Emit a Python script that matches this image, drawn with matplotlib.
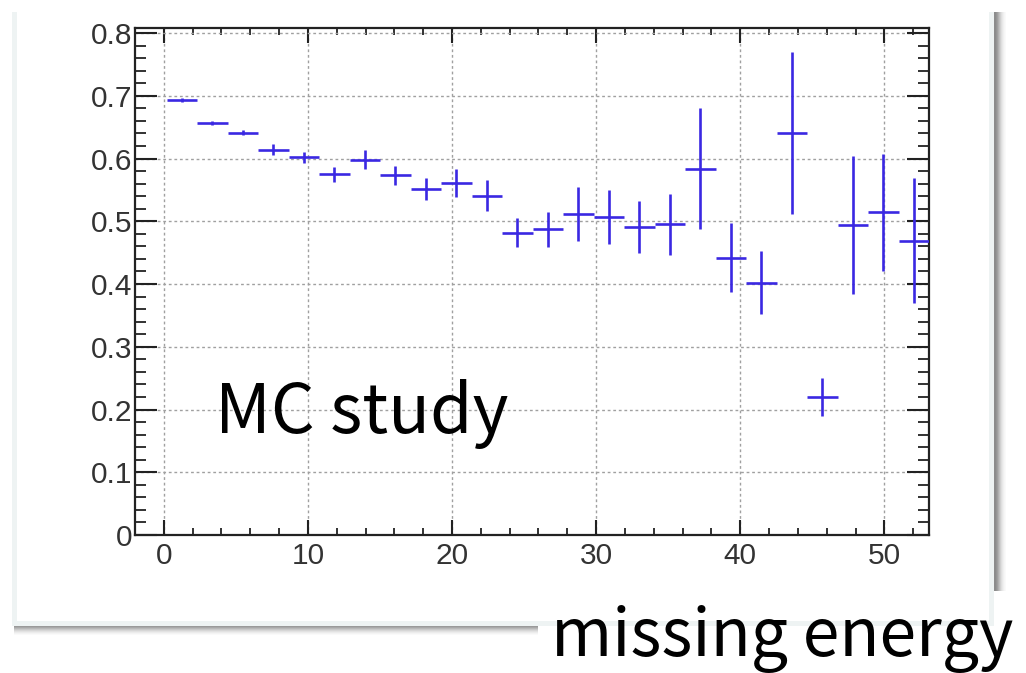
import numpy as np
import matplotlib
matplotlib.use("Agg")
import matplotlib.pyplot as plt
from matplotlib.patches import Rectangle
from matplotlib.ticker import MultipleLocator

# histogram binning (25 bins)
bin_lo, bin_hi, n_bins = 0.2, 53.1, 25

values = [0.693, 0.657, 0.641, 0.614, 0.602, 0.575, 0.598, 0.573, 0.552,
          0.561, 0.541, 0.482, 0.487, 0.512, 0.507, 0.491, 0.495, 0.584,
          0.442, 0.402, 0.641, 0.220, 0.494, 0.514, 0.469]
errors = [0.003, 0.003, 0.004, 0.009, 0.009, 0.012, 0.015, 0.015, 0.0175,
          0.022, 0.024, 0.023, 0.028, 0.043, 0.043, 0.042, 0.049, 0.097,
          0.055, 0.050, 0.129, 0.031, 0.110, 0.093, 0.100]

x_ticks = [0, 10, 20, 30, 40, 50]
x_labels = ["0", "10", "20", "30", "40", "50"]
y_ticks = [0, 0.1, 0.2, 0.3, 0.4, 0.5, 0.6, 0.7, 0.8]
y_labels = ["0", "0.1", "0.2", "0.3", "0.4", "0.5", "0.6", "0.7", "0.8"]

W, H = 1026, 673
fig = plt.figure(figsize=(W / 100, H / 100), dpi=100)


def px_rect(x0, y0, x1, y1, color, z=-10):
    # rectangle given in image pixels (origin top-left)
    fig.patches.append(Rectangle((x0 / W, 1 - y1 / H), (x1 - x0) / W, (y1 - y0) / H,
                                 transform=fig.transFigure, facecolor=color,
                                 edgecolor="none", zorder=z))


# picture frame with pale border and shadow
px_rect(12, 12, 994, 626, "#eef3f3")
px_rect(17, 12, 989, 621, "white")
shadow_right = ["#8c8c8c", "#8c8c8c", "#959595", "#a0a0a0", "#b0b0b0", "#c0c0c0",
                "#d0d0d0", "#dedede", "#e8e8e8", "#f0f0f0", "#f6f6f6", "#fafafa"]
for i, c in enumerate(shadow_right):
    px_rect(994 + i, 12, 995 + i, 591, c)
shadow_bottom = ["#9a9a9a", "#a8a8a8", "#b8b8b8", "#c8c8c8", "#d6d6d6", "#e2e2e2",
                 "#ececec", "#f4f4f4", "#fafafa"]
for i, c in enumerate(shadow_bottom):
    px_rect(14, 626 + i, 538, 627 + i, c)

ax = fig.add_axes([135 / W, 1 - 535 / H, (929 - 135) / W, (535 - 28) / H])
ax.set_zorder(1)

edges = np.linspace(bin_lo, bin_hi, n_bins + 1)
centers = 0.5 * (edges[:-1] + edges[1:])
half = 0.5 * (edges[1:] - edges[:-1])

ax.errorbar(centers, values, xerr=half, yerr=errors, fmt="none",
            ecolor="#3a28e2", elinewidth=1.9, capsize=0, zorder=3)

ax.set_xlim(-2, 53.1)
ax.set_ylim(0, 0.808)
ax.set_xticks(x_ticks, x_labels)
ax.set_yticks(y_ticks, y_labels)
ax.xaxis.set_minor_locator(MultipleLocator(2))
ax.yaxis.set_minor_locator(MultipleLocator(0.02))

tick_font = ["Liberation Sans", "DejaVu Sans"]
for lab in ax.get_xticklabels() + ax.get_yticklabels():
    lab.set_fontfamily(tick_font)
    lab.set_fontsize(21.5)
    lab.set_color("#333333")

ax.tick_params(axis="both", which="both", direction="in", top=True, right=True,
               color="#222222")
ax.tick_params(axis="y", which="major", length=16, width=1.5, pad=2)
ax.tick_params(axis="y", which="minor", length=8, width=1.3)
ax.tick_params(axis="x", which="major", length=11, width=1.5, pad=5)
ax.tick_params(axis="x", which="minor", length=5, width=1.3)

for sp in ax.spines.values():
    sp.set_linewidth(1.6)
    sp.set_color("#222222")

ax.grid(True, which="major", linestyle=(0, (2, 2)), color="#a0a0a0", linewidth=1)
ax.set_axisbelow(True)

txt_font = ["Noto Sans CJK KR", "DejaVu Sans"]
fig.text(215 / W, 1 - 433 / H, "MC study", fontsize=49.5, family=txt_font,
         weight="medium", ha="left", va="baseline", color="black", zorder=5)
fig.text(551 / W, 1 - 656 / H, "missing energy", fontsize=47.5, family=txt_font,
         weight="medium", ha="left", va="baseline", color="black", zorder=5)

fig.savefig("out.png", dpi=100)
